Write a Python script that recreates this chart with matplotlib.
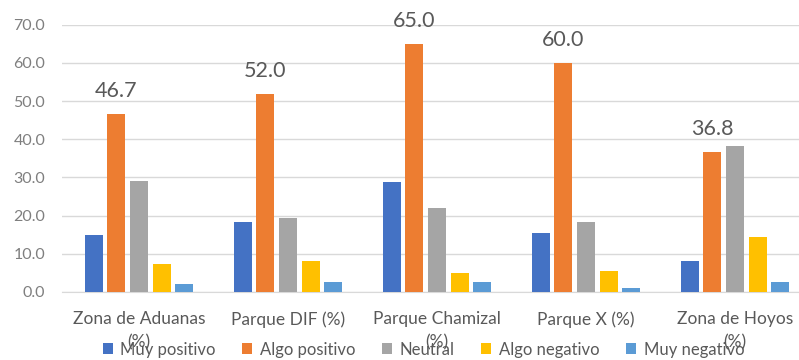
import matplotlib.pyplot as plt
import numpy as np

# respuestas por zona / parque (%)
zonas = ['Zona de Aduanas\n(%)', 'Parque DIF (%)', 'Parque Chamizal\n(%)',
         'Parque X (%)', 'Zona de Hoyos\n(%)']
series = ['Muy positivo', 'Algo positivo', 'Neutral', 'Algo negativo', 'Muy negativo']
muy_positivo = [15.0, 18.4, 28.9, 15.5, 8.2]
algo_positivo = [46.7, 52.0, 65.0, 60.0, 36.8]
neutral = [29.2, 19.3, 22.0, 18.4, 38.3]
algo_negativo = [7.2, 8.2, 5.0, 5.6, 14.5]
muy_negativo = [2.1, 2.5, 2.5, 1.0, 2.5]
valores = [muy_positivo, algo_positivo, neutral, algo_negativo, muy_negativo]

colores = ['#4472C4', '#ED7D31', '#A5A5A5', '#FFC000', '#5B9BD5']  # paleta office

plt.rcParams['font.family'] = ['Lato', 'DejaVu Sans']

fig = plt.figure(figsize=(7.99, 3.6), dpi=100)
ax = fig.add_axes([0.0776, 0.189, 0.9224, 0.742])

x = np.arange(len(zonas))
paso = 0.152
ancho = 0.12
for i, (nombre, vals) in enumerate(zip(series, valores)):
    barras = ax.bar(x + (i - 2) * paso, vals, ancho, color=colores[i], label=nombre, zorder=3)
    if nombre == 'Algo positivo':
        for b, v in zip(barras, vals):
            ax.text(b.get_x() + b.get_width() / 2, v + 3.4, f"{v:.1f}", ha='center', va='bottom',
                    fontsize=15.5, color='#595959')

ax.set_ylim(0, 70)
ax.set_xlim(-0.517, 4.43)
ax.set_yticks(np.arange(0, 71, 10))
ax.set_yticklabels([f"{t:.1f}" for t in range(0, 71, 10)])
ax.set_xticks(x)
ax.set_xticklabels(zonas, linespacing=1.5)
ax.yaxis.grid(True, color='#D9D9D9', linewidth=1, zorder=0)
for s in ['top', 'right', 'left']:
    ax.spines[s].set_visible(False)
ax.spines['bottom'].set_color('#D9D9D9')
ax.tick_params(axis='x', length=0, labelsize=12.5, colors='#595959', pad=14)
ax.tick_params(axis='y', length=0, labelsize=11.5, colors='#7F7F7F', pad=12)

# leyenda abajo, se monta un poco con la segunda línea de las etiquetas
fig.legend(loc='lower center', bbox_to_anchor=(0.53, -0.035), ncol=5, frameon=False,
           fontsize=12, handlelength=0.6, handleheight=0.6, handletextpad=0.45,
           columnspacing=1.6, labelcolor='#595959')

plt.savefig('out.png', dpi=100)
